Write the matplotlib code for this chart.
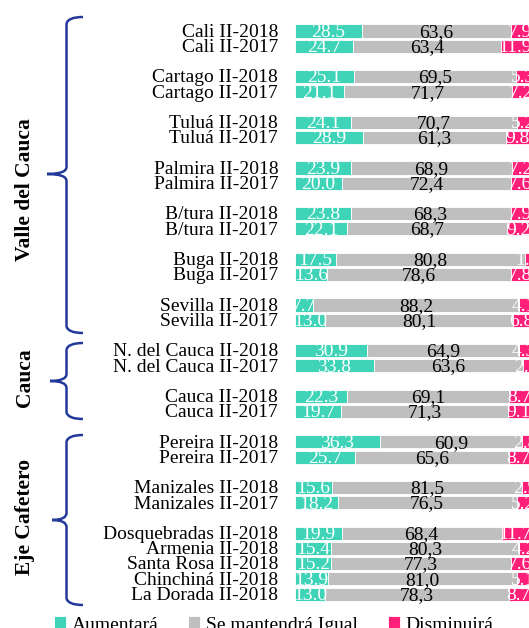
import matplotlib.pyplot as plt
from matplotlib.path import Path
from matplotlib.patches import PathPatch

# datos (porcentaje de respuestas)
ciudades = ['Cali II-2018', 'Cali II-2017', '',
            'Cartago II-2018', 'Cartago II-2017', '',
            'Tuluá II-2018', 'Tuluá II-2017', '',
            'Palmira II-2018', 'Palmira II-2017', '',
            'B/tura II-2018', 'B/tura II-2017', '',
            'Buga II-2018', 'Buga II-2017', '',
            'Sevilla II-2018', 'Sevilla II-2017', '',
            'N. del Cauca II-2018', 'N. del Cauca II-2017', '',
            'Cauca II-2018', 'Cauca II-2017', '',
            'Pereira II-2018', 'Pereira II-2017', '',
            'Manizales II-2018', 'Manizales II-2017', '',
            'Dosquebradas II-2018', 'Armenia II-2018', 'Santa Rosa II-2018',
            'Chinchiná II-2018', 'La Dorada II-2018']

aumentara = [28.5, 24.7, None, 25.1, 21.1, None, 24.1, 28.9, None,
             23.9, 20.0, None, 23.8, 22.1, None, 17.5, 13.6, None,
             7.7, 13.0, None, 30.9, 33.8, None, 22.3, 19.7, None,
             36.3, 25.7, None, 15.6, 18.2, None,
             19.9, 15.4, 15.2, 13.9, 13.0]
igual = [63.6, 63.4, None, 69.5, 71.7, None, 70.7, 61.3, None,
         68.9, 72.4, None, 68.3, 68.7, None, 80.8, 78.6, None,
         88.2, 80.1, None, 64.9, 63.6, None, 69.1, 71.3, None,
         60.9, 65.6, None, 81.5, 76.5, None,
         68.4, 80.3, 77.3, 81.0, 78.3]
disminuira = [7.9, 11.9, None, 5.3, 7.2, None, 5.2, 9.8, None,
              7.2, 7.6, None, 7.9, 9.2, None, 1.7, 7.8, None,
              4.1, 6.8, None, 4.3, 2.6, None, 8.7, 9.1, None,
              2.8, 8.7, None, 2.9, 5.2, None,
              11.7, 4.2, 7.6, 5.1, 8.7]

grupos = ['Valle del Cauca', 'Cauca', 'Eje Cafetero']

c_aum = '#3fd4b8'
c_igu = '#bfbfbf'
c_dis = '#ff1f78'
c_llave = '#23399a'

fuente = 'Liberation Serif'
plt.rcParams['font.family'] = [fuente, 'DejaVu Serif']

W, H = 529, 628
fig = plt.figure(figsize=(W / 100, H / 100), dpi=100)

# ejes de fondo en pixeles para llaves y titulos de grupo
fondo = fig.add_axes([0, 0, 1, 1])
fondo.set_xlim(0, W)
fondo.set_ylim(H, 0)
fondo.axis('off')

# fila 0 en y=31 px, paso 15.22 px
y0, paso = 31, 15.22
ax = fig.add_axes([295 / W, 0, 234 / W, 1])
ax.set_ylim((H - y0) / paso, -y0 / paso)
ax.set_xlim(0, 100)
ax.axis('off')

filas = [i for i, c in enumerate(ciudades) if c]
a = [aumentara[i] for i in filas]
g = [igual[i] for i in filas]
d = [disminuira[i] for i in filas]
izq_g = [x for x in a]
izq_d = [x + y for x, y in zip(a, g)]

alto = 0.86
b1 = ax.barh(filas, a, height=alto, color=c_aum, edgecolor='white', linewidth=0.6, label='Aumentará')
b2 = ax.barh(filas, g, left=izq_g, height=alto, color=c_igu, edgecolor='white', linewidth=0.6,
             label='Se mantendrá Igual')
b3 = ax.barh(filas, d, left=izq_d, height=alto, color=c_dis, edgecolor='white', linewidth=0.6,
             label='Disminuirá')

fs = 14
for f, va, vg, vd, lg, ld in zip(filas, a, g, d, izq_g, izq_d):
    ax.text(va / 2, f + 0.08, f'{va:.1f}', ha='center', va='center', color='white', fontsize=fs)
    ax.text(lg + vg / 2, f + 0.08, f'{vg:.1f}'.replace('.', ','), ha='center', va='center',
            color='black', fontsize=fs)
    ax.text(ld + vd / 2, f + 0.08, f'{vd:.1f}', ha='center', va='center', color='white',
            fontsize=fs, clip_on=False)
    ax.text(-7.2, f + 0.08, ciudades[f], ha='right', va='center', color='black', fontsize=fs)


def llave(arriba, medio, abajo, punta, x=66.5, xe=83, r=7):
    verts = [(xe, arriba), (x + 1, arriba), (x, arriba + r),
             (x, medio - r), (x, medio), (punta, medio),
             (x, medio), (x, medio + r),
             (x, abajo - r), (x + 1, abajo), (xe, abajo)]
    codes = [Path.MOVETO, Path.CURVE3, Path.CURVE3,
             Path.LINETO, Path.CURVE3, Path.CURVE3,
             Path.CURVE3, Path.CURVE3,
             Path.LINETO, Path.CURVE3, Path.CURVE3]
    fondo.add_patch(PathPatch(Path(verts, codes), fill=False, edgecolor=c_llave, lw=1.8))


llave(17, 174, 333, 47)
llave(343, 381, 419, 50)
llave(435, 520, 605, 52)

for texto, yc in zip(grupos, [190, 378, 517]):
    fondo.text(25, yc, texto, rotation=90, ha='center', va='center', fontsize=15.5,
               fontweight='bold', color='black')

fig.legend(handles=[b1, b2, b3], loc='center left', bbox_to_anchor=(54 / W, 1 - 625 / H),
           ncol=3, frameon=False, fontsize=fs, handlelength=0.6, handleheight=0.6,
           handletextpad=0.3, columnspacing=1.55, borderpad=0, borderaxespad=0)

fig.savefig('out.png', dpi=100)
